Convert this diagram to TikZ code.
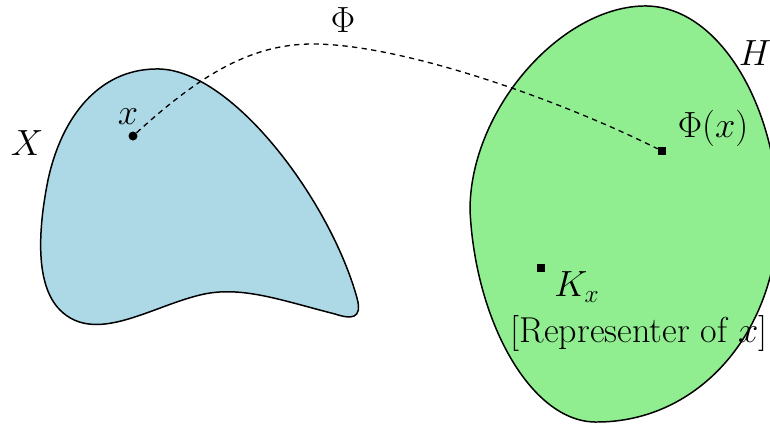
\documentclass[tikz,border=0pt]{standalone}
\usepackage{amsmath}
\usepackage{amssymb}
\usepackage{tikz}
\usepackage{xcolor}
\definecolor{setblue}{RGB}{173,216,230}
\definecolor{setgreen}{RGB}{144,238,144}

\begin{document}
\begin{tikzpicture}[x=0.02cm,y=-0.02cm,
  lbl/.style={font=\fontsize{20.5}{24}\selectfont,inner sep=0pt},
  dot/.style={circle,fill=black,inner sep=0pt,minimum size=0.18cm},
  sq/.style={rectangle,fill=black,inner sep=0pt,minimum size=0.16cm}]
\useasboundingbox (0,0) rectangle (770,423);
% the set X
\draw[line width=0.85pt,fill=setblue] (155,69) .. controls (230,66) and (330,200) .. (357,298)
  .. controls (363,320) and (350,319) .. (335,314)
  .. controls (280,300) and (240,285) .. (200,295)
  .. controls (150,307) and (95,345) .. (60,310)
  .. controls (35,285) and (38,230) .. (48,180)
  .. controls (62,115) and (100,70) .. (155,69) -- cycle;
% the space H
\draw[line width=0.85pt,fill=setgreen] (643,6) .. controls (720,4) and (778,110) .. (778,215)
  .. controls (778,330) and (700,423) .. (595,422)
  .. controls (530,421) and (475,320) .. (470,210)
  .. controls (470,110) and (560,8) .. (643,6) -- cycle;
\node[dot] (xdot) at (133,136) {};
\node[sq] (phidot) at (662,151) {};
\node[sq] (kdot) at (541,268) {};
\coordinate (arc) at (310,44);
\draw[dashed,line width=0.75pt,dash pattern=on 3pt off 2.5pt] (xdot) .. controls (200,75) and (250,45) .. (arc)
  .. controls (400,43) and (560,100) .. (phidot);
\node[lbl] (X) at (27,143) {$X$};
\node[lbl] (xlab) at (128,117) {$x$};
\node[lbl] (Phi) at (343,20) {$\Phi$};
\node[lbl] (H) at (755,53) {$H$};
\node[lbl] (philab) at (713,128) {$\Phi(x)$};
\node[lbl] (klab) at (577,287) {$K_x$};
\node[lbl] (rep) at (639,333) {[Representer of $x$]};
\end{tikzpicture}
\end{document}
